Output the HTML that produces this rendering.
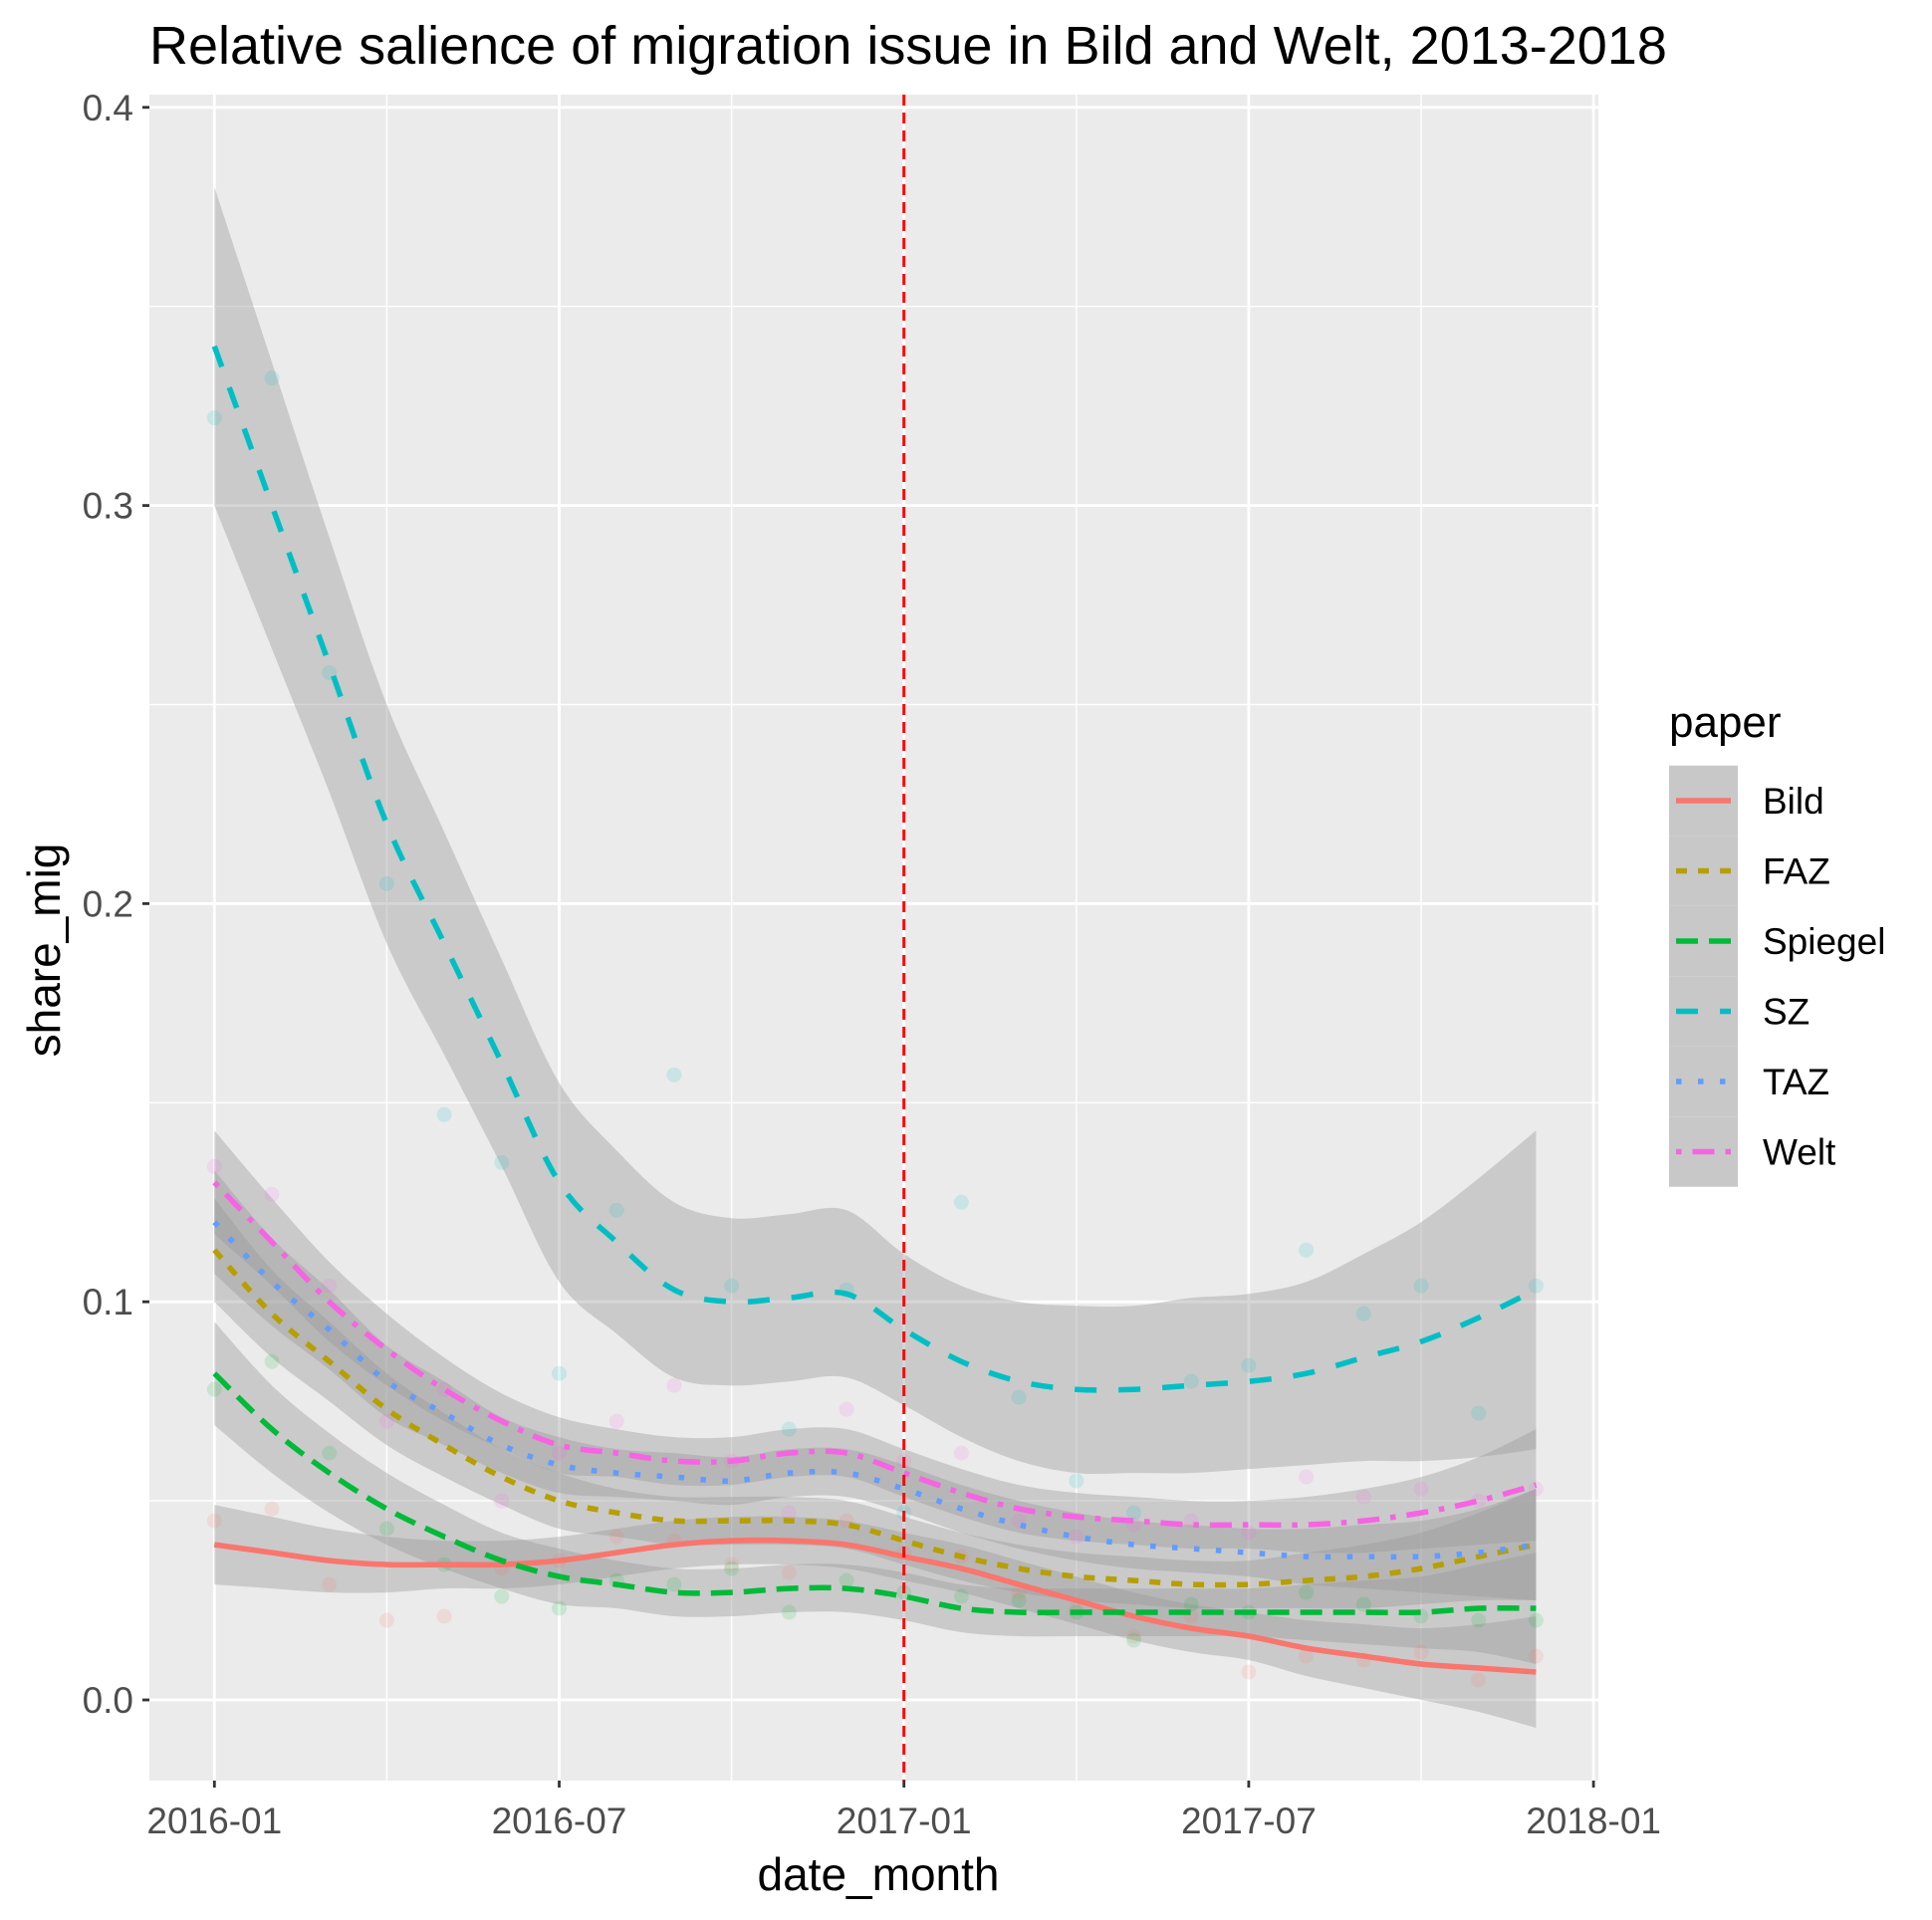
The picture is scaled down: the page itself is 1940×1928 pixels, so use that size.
<!DOCTYPE html>
<html><head><meta charset="utf-8">
<style>
html,body{margin:0;padding:0;background:#fff;}
svg{display:block;font-family:"Liberation Sans",Arial,sans-serif;}
</style></head>
<body>
<svg id="chart" width="1940" height="1928" viewBox="0 0 1940 1928">
<rect x="0" y="0" width="1940" height="1928" fill="#fff"/>
<text x="150" y="64" font-size="54" fill="#000">Relative salience of migration issue in Bild and Welt, 2013-2018</text>
<rect id="panel" x="150" y="95" width="1455" height="1693" fill="#ebebeb"/>
<g id="grid"></g>
<g id="bands"></g>
<g id="points"></g>
<g id="lines"></g>
<g id="axes"></g>
<text x="882" y="1898" font-size="46" text-anchor="middle" fill="#000">date_month</text>
<text transform="translate(60,954) rotate(-90)" font-size="46" text-anchor="middle" fill="#000">share_mig</text>
<g id="legend"></g>
</svg>
<script>
const months = [0,1,2,3,4,5,6,7,8,9,10,11,12,13,14,15,16,17,18,19,20,21,22,23];
const yTicks = [0.0,0.1,0.2,0.3,0.4];
const yTickLabels = ["0.0","0.1","0.2","0.3","0.4"];
const xTickMonths = [0,6,12,18,24];
const xTickLabels = ["2016-01","2016-07","2017-01","2017-07","2018-01"];
const papers = ["Bild","FAZ","Spiegel","SZ","TAZ","Welt"];
const bild = [0.039,0.037,0.035,0.034,0.034,0.034,0.035,0.037,0.039,0.040,0.040,0.039,0.036,0.033,0.029,0.025,0.021,0.018,0.016,0.013,0.011,0.009,0.008,0.007];
const faz = [0.113,0.097,0.085,0.073,0.064,0.056,0.050,0.047,0.045,0.045,0.045,0.044,0.040,0.036,0.033,0.031,0.030,0.029,0.029,0.030,0.031,0.033,0.036,0.039];
const spiegel = [0.082,0.068,0.057,0.048,0.041,0.035,0.031,0.029,0.027,0.027,0.028,0.028,0.026,0.023,0.022,0.022,0.022,0.022,0.022,0.022,0.022,0.022,0.023,0.023];
const sz = [0.340,0.300,0.260,0.220,0.190,0.160,0.130,0.115,0.103,0.100,0.101,0.102,0.093,0.085,0.080,0.078,0.078,0.079,0.080,0.082,0.086,0.090,0.096,0.103];
const taz = [0.120,0.105,0.093,0.080,0.072,0.064,0.059,0.057,0.056,0.055,0.057,0.057,0.053,0.048,0.044,0.041,0.039,0.038,0.037,0.036,0.036,0.036,0.037,0.039];
const welt = [0.130,0.115,0.100,0.088,0.078,0.070,0.064,0.062,0.060,0.060,0.062,0.062,0.057,0.052,0.048,0.046,0.045,0.044,0.044,0.044,0.045,0.047,0.050,0.054];
const szHalf = [0.040,0.036,0.032,0.030,0.028,0.026,0.025,0.023,0.022,0.021,0.021,0.021,0.019,0.019,0.020,0.021,0.021,0.022,0.022,0.023,0.026,0.030,0.035,0.040];
const smallHalf = [0.013,0.011,0.010,0.009,0.008,0.007,0.007,0.006,0.006,0.006,0.006,0.006,0.006,0.006,0.006,0.006,0.006,0.006,0.006,0.007,0.008,0.009,0.011,0.014];
const bildHalf = [0.010,0.009,0.008,0.007,0.006,0.006,0.006,0.006,0.006,0.006,0.006,0.006,0.006,0.006,0.006,0.006,0.006,0.006,0.006,0.007,0.008,0.009,0.011,0.014];
const szPts = [0.322,0.332,0.258,0.205,0.147,0.135,0.082,0.123,0.157,0.104,0.068,0.103,0.047,0.125,0.076,0.055,0.047,0.080,0.084,0.113,0.097,0.104,0.072,0.104];
const weltPts = [0.134,0.127,0.104,0.070,0.078,0.050,0.062,0.070,0.079,0.060,0.047,0.073,0.060,0.062,0.045,0.041,0.044,0.045,0.042,0.056,0.051,0.053,0.050,0.053];
const bildPts = [0.045,0.048,0.029,0.020,0.021,0.033,0.035,0.041,0.040,0.034,0.032,0.045,0.037,0.036,0.027,0.023,0.016,0.021,0.007,0.011,0.010,0.012,0.005,0.011];
const spiegelPts = [0.078,0.085,0.062,0.043,0.034,0.026,0.023,0.030,0.029,0.033,0.022,0.030,0.027,0.026,0.025,0.022,0.015,0.024,0.022,0.027,0.024,0.021,0.020,0.020];

const X0=215.3, MW=57.7, Y0=1707, YS=3998;
function xs(m){return X0+m*MW;}
function ys(v){return Y0-v*YS;}
const NS="http://www.w3.org/2000/svg";
function mk(tag,attrs,parent){const e=document.createElementNS(NS,tag);for(const k in attrs)e.setAttribute(k,attrs[k]);parent.appendChild(e);return e;}
function spline(P,start){
  let d=(start?'M':'L')+P[0][0].toFixed(1)+','+P[0][1].toFixed(1);
  for(let i=0;i<P.length-1;i++){
    const p0=P[Math.max(i-1,0)],p1=P[i],p2=P[i+1],p3=P[Math.min(i+2,P.length-1)];
    const c1=[p1[0]+(p2[0]-p0[0])/6,p1[1]+(p2[1]-p0[1])/6];
    const c2=[p2[0]-(p3[0]-p1[0])/6,p2[1]-(p3[1]-p1[1])/6];
    d+='C'+c1[0].toFixed(1)+','+c1[1].toFixed(1)+' '+c2[0].toFixed(1)+','+c2[1].toFixed(1)+' '+p2[0].toFixed(1)+','+p2[1].toFixed(1);
  }
  return d;
}

const grid=document.getElementById('grid');
for(let i=0;i<yTicks.length-1;i++){
  const yy=ys((yTicks[i]+yTicks[i+1])/2);
  const l=mk('line',{x1:150,x2:1605,y1:yy,y2:yy,stroke:'#fff','stroke-width':1.4},grid);
  
  
}
for(let i=0;i<xTickMonths.length-1;i++){
  const xm=xs((xTickMonths[i]+xTickMonths[i+1])/2);
  const l=mk('line',{x1:xm,x2:xm,y1:95,y2:1788,stroke:'#fff','stroke-width':1.4},grid);
  
  
}
const axes=document.getElementById('axes');
yTicks.forEach((t,i)=>{
  const l=mk('line',{x1:150,x2:1605,y1:ys(t),y2:ys(t),stroke:'#fff','stroke-width':2.8},grid);
  
  
  const tk=mk('line',{x1:143,x2:150,y1:ys(t),y2:ys(t),stroke:'#333','stroke-width':2.8},axes);
  
  
  const tx=mk('text',{x:134,y:ys(t)+13,'font-size':37,'text-anchor':'end',fill:'#4d4d4d'},axes);
  tx.textContent=yTickLabels[i];
  
  
});
xTickMonths.forEach((m,i)=>{
  const l=mk('line',{x1:xs(m),x2:xs(m),y1:95,y2:1788,stroke:'#fff','stroke-width':2.8},grid);
  
  
  const tk=mk('line',{x1:xs(m),x2:xs(m),y1:1788,y2:1795,stroke:'#333','stroke-width':2.8},axes);
  
  
  const tx=mk('text',{x:xs(m),y:1841,'font-size':37,'text-anchor':'middle',fill:'#4d4d4d'},axes);
  tx.textContent=xTickLabels[i];
  
  
});

const colors={Bild:'#F8766D',FAZ:'#B79F00',Spiegel:'#00BA38',SZ:'#00BFC4',TAZ:'#619CFF',Welt:'#F564E3'};
const dashes={Bild:'',FAZ:'11 11',Spiegel:'22 11',SZ:'22 22',TAZ:'5.5 16.5',Welt:'5.5 11 22 11'};
const series={Bild:bild,FAZ:faz,Spiegel:spiegel,SZ:sz,TAZ:taz,Welt:welt};
const halves={Bild:bildHalf,FAZ:smallHalf,Spiegel:smallHalf,SZ:szHalf,TAZ:smallHalf,Welt:smallHalf};

const bands=document.getElementById('bands');
papers.forEach(p=>{
  const v=series[p],h=halves[p];
  const up=months.map((m,i)=>[xs(m),ys(v[i]+h[i])]);
  const lo=months.map((m,i)=>[xs(m),ys(v[i]-h[i])]).reverse();
  const d=spline(up,true)+spline(lo,false)+'Z';
  const b=mk('path',{d:d,fill:'#999','fill-opacity':0.4},bands);
  
  
});

const pts=document.getElementById('points');
const ptSets=[['SZ',szPts],['Welt',weltPts],['Bild',bildPts],['Spiegel',spiegelPts]];
ptSets.forEach(([p,arr])=>{
  arr.forEach((v,i)=>{
    const c=mk('circle',{cx:xs(months[i]),cy:ys(v),r:7.5,fill:colors[p],'fill-opacity':0.15},pts);
    
    
  });
});

const lines=document.getElementById('lines');
papers.forEach(p=>{
  const v=series[p];
  const P=months.map((m,i)=>[xs(m),ys(v[i])]);
  const attrs={d:spline(P,true),fill:'none',stroke:colors[p],'stroke-width':5.5,'stroke-linejoin':'round'};
  if(dashes[p])attrs['stroke-dasharray']=dashes[p];
  const l=mk('path',attrs,lines);
  
  
});
const vl=mk('line',{x1:xs(12),x2:xs(12),y1:95,y2:1788,stroke:'#FF0000','stroke-width':3,'stroke-dasharray':'11 7'},lines);



const lg=document.getElementById('legend');
const lt=mk('text',{x:1676,y:740,'font-size':44,fill:'#000'},lg);
lt.textContent='paper';


papers.forEach((p,i)=>{
  const cy=804+i*70.5;
  const kb=mk('rect',{x:1676,y:cy-35.25,width:69,height:70.5,fill:'#c8c8c8'},lg);
  
  
  const a={x1:1683,x2:1738,y1:cy,y2:cy,stroke:colors[p],'stroke-width':5.5};
  if(dashes[p])a['stroke-dasharray']=dashes[p];
  const kl=mk('line',a,lg);
  
  
  const t=mk('text',{x:1770,y:cy+13,'font-size':37,fill:'#000'},lg);
  t.textContent=p;
  
  
});
</script>
</body></html>
